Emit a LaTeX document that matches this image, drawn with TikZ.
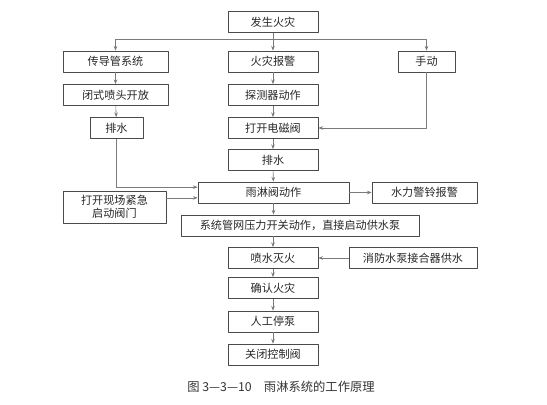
\documentclass[tikz,border=0pt]{standalone}
\usepackage{fontspec}
\newfontfamily\cjk{Noto Sans CJK SC}
\usepackage{tikz}
\usetikzlibrary{arrows.meta}
\definecolor{boxgray}{HTML}{4A4A4A}
\definecolor{linegray}{HTML}{7A7A7A}
\tikzset{
  every picture/.style={
    font=\cjk\fontsize{9.5}{11}\selectfont,
    line join=round,
    >={Stealth[length=4pt,width=3pt]},
  },
  flowbox/.style={draw=boxgray, line width=0.6pt, text=black!85,
    inner sep=0pt, minimum height=0.63cm, minimum width=2.7cm, align=center},
  link/.style={->, draw=linegray, line width=0.5pt},
}

\begin{document}
\begin{tikzpicture}
\useasboundingbox (0,0) rectangle (16.41,12.15);
% middle column
\node[flowbox] (fire) at (8.19,11.49) {发生火灾};
\node[flowbox] (alarm) at (8.19,10.305) {火灾报警};
\node[flowbox] (detect) at (8.19,9.30) {探测器动作};
\node[flowbox] (valve) at (8.19,8.31) {打开电磁阀};
\node[flowbox] (drainM) at (8.19,7.35) {排水};
\node[flowbox, minimum width=4.53cm] (deluge) at (8.205,6.375) {雨淋阀动作};
\node[flowbox, minimum width=7.14cm] (pump) at (9.0,5.385) {系统管网压力开关动作，直接启动供水泵};
\node[flowbox] (spray) at (8.19,4.41) {喷水灭火};
\node[flowbox] (confirm) at (8.19,3.51) {确认火灾};
\node[flowbox] (stop) at (8.19,2.505) {人工停泵};
\node[flowbox] (close) at (8.19,1.515) {关闭控制阀};
% left column
\node[flowbox, minimum width=3.15cm] (tube) at (3.465,10.305) {传导管系统};
\node[flowbox, minimum width=3.15cm] (nozzle) at (3.465,9.30) {闭式喷头开放};
\node[flowbox, minimum width=1.59cm] (drainL) at (3.495,8.31) {排水};
\node[flowbox, minimum width=3.09cm, minimum height=0.96cm] (emerg) at (3.435,5.94) {打开现场紧急\\启动阀门};
% right column
\node[flowbox, minimum width=1.71cm] (manual) at (12.795,10.305) {手动};
\node[flowbox, minimum width=3.15cm] (bell) at (12.735,6.375) {水力警铃报警};
\node[flowbox, minimum width=3.84cm] (supply) at (12.39,4.41) {消防水泵接合器供水};
% caption
\node[font=\cjk\fontsize{10.5}{12}\selectfont, text=black!80] (caption) at (8.43,0.54) {图 3—3—10\quad 雨淋系统的工作原理};

\coordinate (split) at (8.19,10.98);
\coordinate (dhi) at ([yshift=1.6mm]deluge.west);
\coordinate (dlo) at ([yshift=-1.6mm]deluge.west);

\draw[link] (fire) -- (alarm);
\draw[link] (split) -| (tube);
\draw[link] (split) -| (manual);
\draw[link] (tube) -- (nozzle);
\draw[link] (nozzle) -- (drainL);
\draw[link] (alarm) -- (detect);
\draw[link] (detect) -- (valve);
\draw[link] (manual) |- (valve);
\draw[link] (valve) -- (drainM);
\draw[link] (drainM) -- (deluge);
\draw[link] (drainL) |- (dhi);
\draw[link] (emerg.east |- dlo) -- (dlo);
\draw[link] (deluge) -- (bell);
\draw[link] (deluge) -- (deluge |- pump.north);
\draw[link] (pump.south -| spray) -- (spray);
\draw[link] (supply) -- (spray);
\draw[link] (spray) -- (confirm);
\draw[link] (confirm) -- (stop);
\draw[link] (stop) -- (close);
\end{tikzpicture}
\end{document}
